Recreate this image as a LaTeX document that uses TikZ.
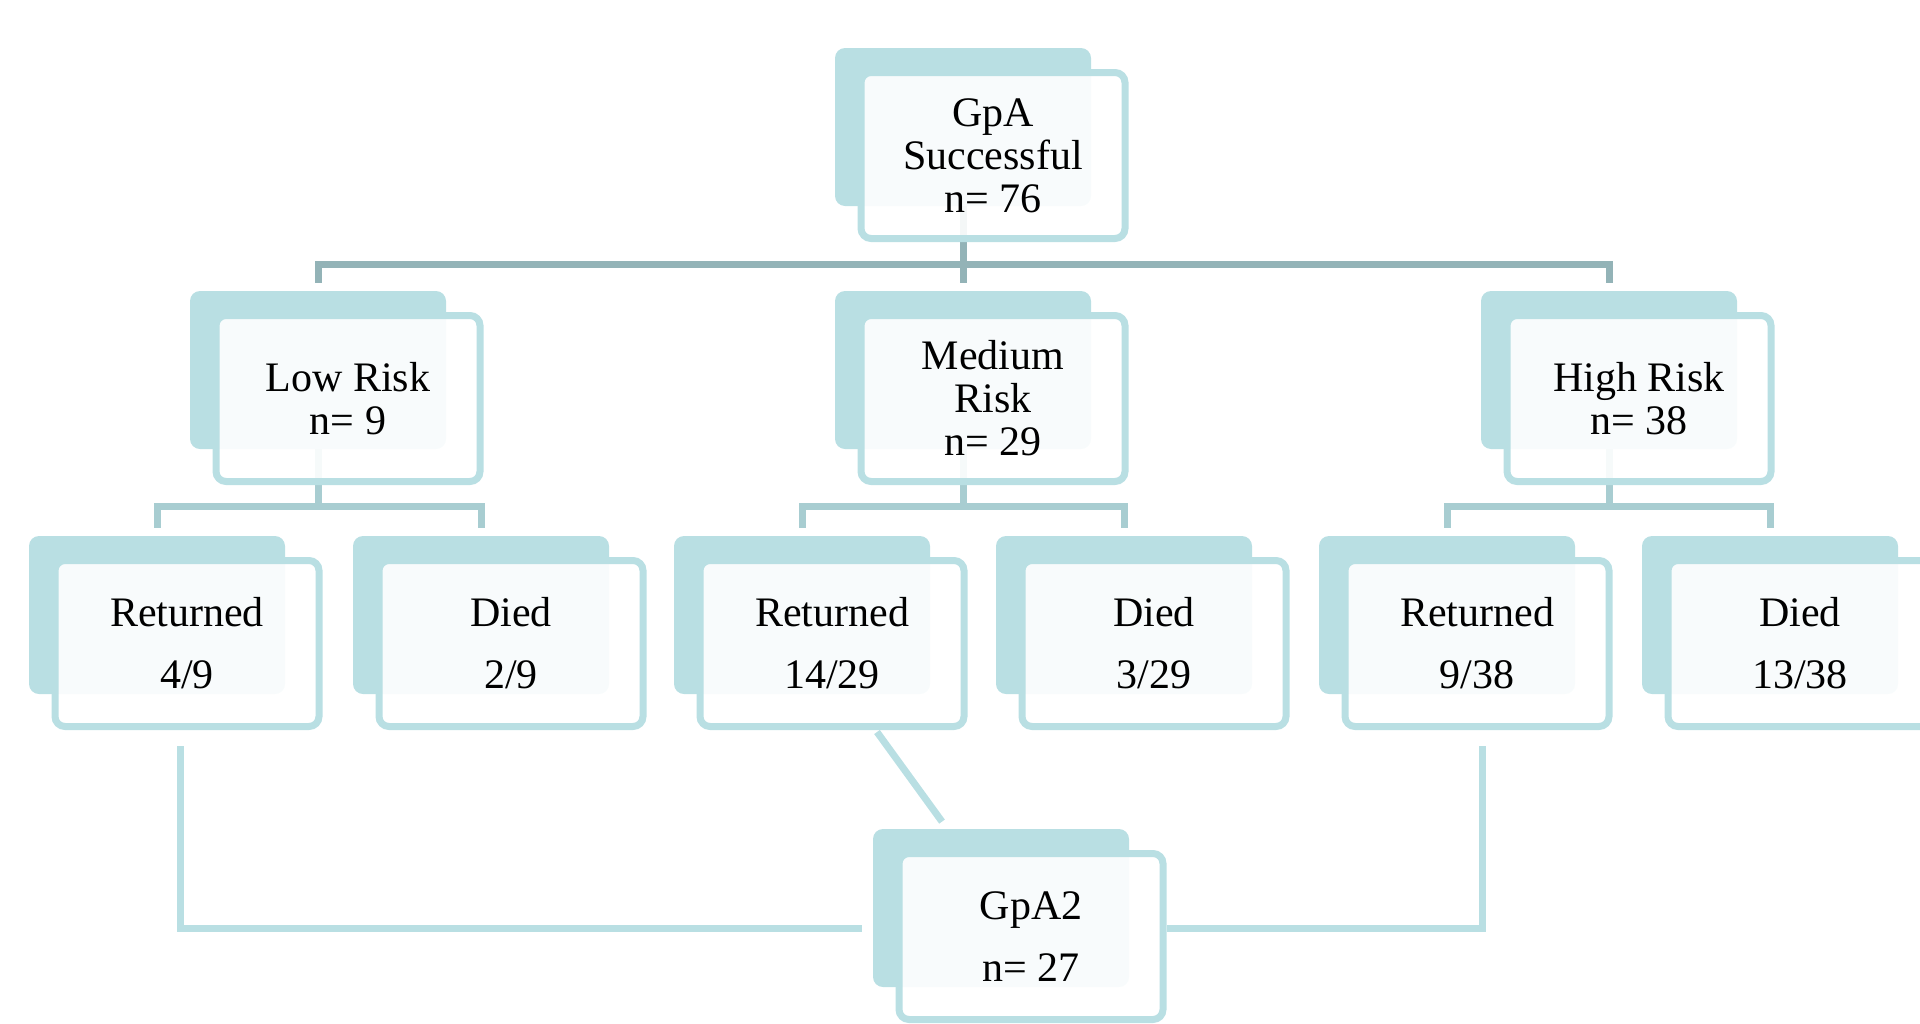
\documentclass[tikz,border=0pt]{standalone}
\usepackage{fontspec}
\setmainfont{Liberation Serif}
\usetikzlibrary{calc}

\definecolor{boxteal}{HTML}{B9DFE3}
\definecolor{busdark}{HTML}{93B3B7}
\definecolor{buslight}{HTML}{A8CDD1}

\tikzset{
  backbox/.style={rectangle, rounded corners=5pt, fill=boxteal, inner sep=0pt,
    minimum width=128pt, minimum height=79pt},
  frontbox/.style={rectangle, rounded corners=5pt, draw=boxteal, line width=3.5pt,
    fill=white, fill opacity=0.9, text opacity=1, inner sep=0pt,
    minimum width=132pt, minimum height=83pt, align=center,
    font=\fontsize{21}{21.5}\selectfont},
  spaced/.style={font=\fontsize{21}{31}\selectfont},
  busone/.style={draw=busdark, line width=3.5pt},
  bustwo/.style={draw=buslight, line width=3.5pt},
  link/.style={draw=boxteal, line width=3.5pt}
}

\begin{document}
\begin{tikzpicture}[x=0.5pt,y=-0.5pt]
  \useasboundingbox (0,0) rectangle (1920,1023);
  % shadow boxes
  \node[backbox] (gpa-bg) at (963,127) {};
  \node[backbox] (low-bg) at (318,370) {};
  \node[backbox] (med-bg) at (963,370) {};
  \node[backbox] (high-bg) at (1609,370) {};
  \foreach \name/\x in {lowret/157,lowdied/481,medret/802,meddied/1124,highret/1447,highdied/1770}
    \node[backbox] (\name-bg) at (\x,615) {};
  \node[backbox] (gpatwo-bg) at (1001,908) {};
  % tree
  \draw[busone] (gpa-bg.south) -- ++(0,59);
  \draw[busone] ([yshift=4pt]low-bg.north) -- ++(0,-18) -| ([yshift=4pt]high-bg.north);
  \draw[busone] ([yshift=4pt]med-bg.north) -- ++(0,-18);
  \foreach \up/\a/\b in {low/lowret/lowdied,med/medret/meddied,high/highret/highdied} {
    \draw[bustwo] (\up-bg.south) -- ++(0,58);
    \draw[bustwo] ([yshift=4pt]\a-bg.north) -- ++(0,-21) -| ([yshift=4pt]\b-bg.north);
  }
  % front boxes
  \node[frontbox] (gpa) at ($(gpa-bg)+(30,28.5)$) {GpA\\Successful\\n= 76};
  \node[frontbox] (low) at ($(low-bg)+(30,28.5)$) {Low Risk\\n= 9};
  \node[frontbox] (med) at ($(med-bg)+(30,28.5)$) {Medium\\Risk\\n= 29};
  \node[frontbox] (high) at ($(high-bg)+(30,28.5)$) {High Risk\\n= 38};
  \node[frontbox,spaced] (lowret) at ($(lowret-bg)+(30,28.5)$) {Returned\\4/9};
  \node[frontbox,spaced] (lowdied) at ($(lowdied-bg)+(30,28.5)$) {Died\\2/9};
  \node[frontbox,spaced] (medret) at ($(medret-bg)+(30,28.5)$) {Returned\\14/29};
  \node[frontbox,spaced] (meddied) at ($(meddied-bg)+(30,28.5)$) {Died\\3/29};
  \node[frontbox,spaced] (highret) at ($(highret-bg)+(30,28.5)$) {Returned\\9/38};
  \node[frontbox,spaced] (highdied) at ($(highdied-bg)+(30,28.5)$) {Died\\13/38};
  \node[frontbox,spaced] (gpatwo) at ($(gpatwo-bg)+(30,28.5)$) {GpA2\\n= 27};
  % links to GpA2
  \draw[link] ($(lowret.south)+(-7,16)$) |- ($(gpatwo-bg.west)+(-11,20)$);
  \draw[link] ($(highret.south)+(5,16)$) |- ($(gpatwo.east)+(0,-8.5)$);
  \draw[link] ($(medret.south)+(45,2)$) -- ($(gpatwo-bg.north)+(-59,-7)$);
\end{tikzpicture}
\end{document}
